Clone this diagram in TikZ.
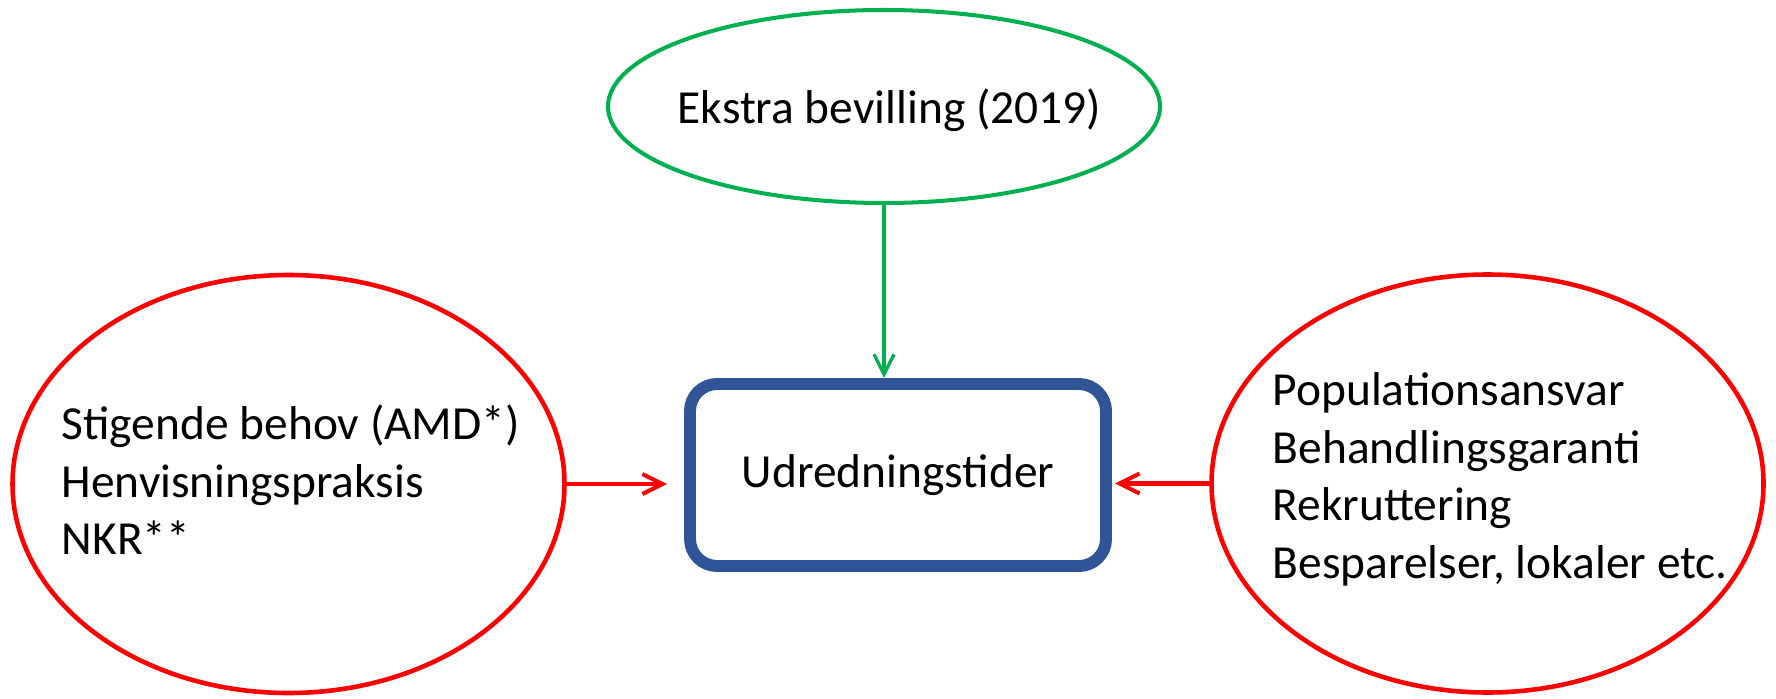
\documentclass[tikz,border=0pt]{standalone}
\usepackage{fontspec}
\setmainfont{Carlito}
\usepackage{xcolor}
\usepackage{tikz}
\usetikzlibrary{shapes.geometric, arrows.meta}

\definecolor{grn}{RGB}{0,176,80}
\definecolor{rd}{RGB}{255,0,0}
\definecolor{boxblue}{RGB}{47,85,151}

\begin{document}
\begin{tikzpicture}[
        oval/.style = {ellipse, outer sep = 0pt, inner sep = 0pt, minimum width = 5.52cm},
        txt/.style = {align = left, inner sep = 0pt},
        tip/.style = {-{Straight Barb[length = 2mm, width = 2mm]}},
        every node/.style = {font = \fontsize{13.5pt}{16.4pt}\selectfont}
    ]
        \useasboundingbox (0, 0) rectangle (17.76, 6.98);
        \node (1) at (8.84, 5.915) [oval, draw = grn, line width = 1.15pt, minimum height = 1.93cm] {};
        \node (2) at (2.885, 2.14) [oval, draw = rd, line width = 1.3pt, minimum height = 4.18cm] {};
        \node (3) at (8.98, 2.23) [draw = boxblue, line width = 3.4pt, rounded corners = 0.27cm, outer sep = 0pt, minimum width = 4.16cm, minimum height = 1.82cm] {Udredningstider};
        \node (4) at (14.875, 2.145) [oval, draw = rd, line width = 1.3pt, minimum height = 4.18cm] {};
        \node (5) at (6.77, 5.75) [txt, anchor = base west] {Ekstra bevilling (2019)};
        \node (6) at (0.61, 2.182) [txt, anchor = west] {Stigende behov (AMD*)\\Henvisningspraksis\\NKR**};
        \node (7) at (12.72, 2.185) [txt, anchor = west] {Populationsansvar\\Behandlingsgaranti\\Rekruttering\\Besparelser, lokaler etc.};
        \draw [tip, grn, line width = 0.95pt, shorten > = 0.06cm] (1) -- (1 |- 3.north);
        \draw [tip, rd, line width = 1.15pt, shorten > = 0.23cm] (2) -- (2 -| 3.west);
        \draw [tip, rd, line width = 1.15pt, shorten > = 0.09cm] (4) -- (4 -| 3.east);
    \end{tikzpicture}
\end{document}
